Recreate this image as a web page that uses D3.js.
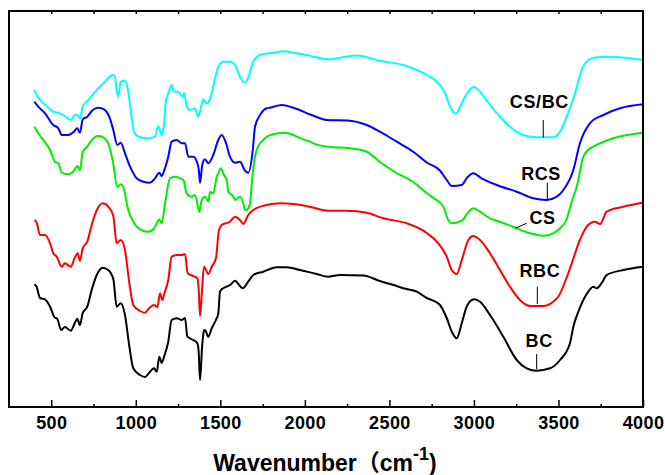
<!DOCTYPE html>
<html>
<head>
<meta charset="utf-8">
<script src="https://cdn.jsdelivr.net/npm/d3@7"></script>
<style>
  html, body { margin: 0; padding: 0; background: #fff; }
  svg { display: block; }
</style>
</head>
<body>
<div id="chart"></div>
<script>
// FTIR spectra, transmittance in arbitrary units (curves offset for display)

const xTicks = [500, 1000, 1500, 2000, 2500, 3000, 3500, 4000];

const bc = [[400,122.7],[414,120],[433,109],[463,107.7],[493,100.3],[518,90],[536,88],[558,77],[581,80],[615,76.3],[640,84.3],[654,88.3],[670,82],[686,94],[713,100.3],[739,117],[769,132],[804,139.3],[837,137],[867,128],[887,100.3],[911,103.7],[936,92],[962,60.3],[985,38.7],[1025,32],[1054,30],[1084,35.3],[1108,38.7],[1124,35.3],[1139,50.3],[1153,44],[1167,50.3],[1192,65.3],[1212,87],[1242,88.7],[1272,87],[1291,89],[1305,70.3],[1340,67],[1364,63.7],[1372,55],[1380,27],[1392,60],[1403,76.3],[1409,77],[1429,70.3],[1449,78.7],[1474,87],[1488,93.7],[1498,115.3],[1508,117.7],[1538,120.3],[1557,122],[1587,126.3],[1616,121],[1632,118.7],[1665,125.3],[1695,132],[1754,135.3],[1833,139.7],[1893,139.7],[1971,137],[2070,133],[2139,130.3],[2208,132],[2346,131.5],[2444,126],[2543,121],[2582,118.7],[2662,115.3],[2721,109],[2776,105],[2799,102],[2839,89],[2869,75.3],[2898,68.7],[2928,83.7],[2957,100.3],[3000,107.7],[3036,105.3],[3095,92],[3174,70.3],[3253,47],[3312,38.7],[3371,36.3],[3450,38.7],[3509,47],[3568,63.7],[3588,80.3],[3617,95],[3647,107],[3667,113],[3706,120.3],[3726,118.7],[3756,124],[3785,132],[3883,137],[4000,140.3]];

const rbc = [[400,187],[414,184.3],[433,172],[463,172],[493,163.7],[512,153.7],[532,150.3],[562,140.3],[581,143.7],[615,140.3],[640,149.7],[656,153.7],[670,146.3],[686,158.7],[713,165.3],[739,182],[772,197.7],[804,203.7],[837,200.3],[867,191],[887,163.7],[911,167],[936,157],[962,123.7],[985,102],[1025,96],[1054,94.3],[1084,99.7],[1108,102],[1127,99.7],[1143,113.7],[1157,107],[1169,113.7],[1192,127],[1212,150.3],[1242,152],[1272,152],[1291,153],[1307,133.7],[1340,131],[1364,128.7],[1372,118],[1380,91],[1392,117],[1403,140.3],[1429,133],[1449,140.3],[1474,148.7],[1492,177],[1508,182],[1557,185.3],[1587,190.3],[1616,187],[1636,183],[1665,192],[1695,197],[1774,202],[1853,203.7],[1932,203],[2030,200.3],[2139,196.3],[2247,196.3],[2366,194.3],[2464,188.7],[2602,183.7],[2721,174],[2789,163.7],[2839,150.3],[2869,137],[2898,133],[2928,147],[2967,167],[2996,171],[3036,167],[3095,153.7],[3154,137],[3213,120.3],[3272,107],[3332,101],[3410,101],[3469,105.3],[3499,110.3],[3558,133.7],[3627,167],[3667,180.3],[3716,185.3],[3746,183],[3785,195.3],[3883,200.3],[4000,204.3]];

const cs = [[400,280.3],[423,273.7],[453,267],[493,257],[522,245.3],[542,243.7],[562,234.3],[601,232.7],[634,236.3],[654,241],[670,237],[686,255.3],[713,260.3],[739,267],[778,271],[808,269.7],[837,263.7],[863,247],[891,220.3],[911,222.7],[936,213.7],[946,203.7],[985,185.3],[1025,177.7],[1074,175.3],[1104,177.7],[1124,183.7],[1139,187.7],[1153,183.7],[1173,203.7],[1202,228.7],[1232,230.3],[1261,228.7],[1281,227],[1301,213.7],[1331,210.3],[1350,212],[1368,200],[1376,195],[1390,207],[1409,210.3],[1429,205.3],[1439,215.3],[1458,213.7],[1479,230.3],[1488,233.7],[1502,238.7],[1522,232],[1538,227],[1547,215.3],[1577,210.3],[1587,207],[1616,210.3],[1636,203.7],[1646,197],[1656,197],[1665,198.7],[1676,203.7],[1686,223.7],[1705,250.3],[1715,257],[1735,263.7],[1754,267],[1774,270.3],[1813,272.7],[1872,274.3],[1932,272],[1952,270.3],[2030,265.3],[2050,263.7],[2139,260.3],[2267,258.7],[2366,255.3],[2444,245],[2543,234],[2641,225],[2721,214],[2760,209],[2819,200.3],[2848,187],[2869,183.7],[2928,186.3],[2967,195],[2996,198.7],[3036,195.3],[3095,188.7],[3135,186.3],[3233,180.3],[3332,173.7],[3410,171.3],[3469,173.7],[3509,178.7],[3549,188],[3578,205],[3608,220.3],[3647,250.3],[3675,257],[3706,260.3],[3824,268.7],[4000,274.3]];

const rcs = [[400,305.3],[423,300.3],[463,293.7],[512,282],[542,278.7],[562,272],[601,272],[634,275.3],[654,278.7],[670,274.3],[686,287.7],[713,290.3],[745,297],[778,299.3],[812,297.7],[843,290.3],[867,277],[891,262],[911,264.3],[936,253.7],[966,240.3],[1005,228.7],[1044,225.3],[1084,224.3],[1114,228.7],[1139,234.3],[1153,231],[1169,237],[1192,250.3],[1212,265.3],[1242,267],[1272,263.7],[1291,263.7],[1311,250.3],[1340,250.3],[1364,243.7],[1372,238],[1380,224.3],[1393,242],[1409,247.7],[1429,243.7],[1458,252],[1488,267],[1508,272],[1534,263.7],[1557,250.3],[1587,244.3],[1616,245.3],[1646,236.3],[1665,234.3],[1692,257],[1705,280.3],[1735,292],[1774,298.7],[1794,299.3],[1863,302],[1932,299.3],[2040,292],[2129,287],[2250,286.5],[2366,282],[2444,275.3],[2543,265.3],[2641,255.3],[2721,244.5],[2799,236.5],[2839,227],[2869,221],[2928,222],[2957,228.7],[2996,233.7],[3045,228.7],[3135,222],[3253,215.3],[3351,208.7],[3430,207],[3490,210.3],[3529,217],[3588,237],[3627,263.7],[3686,283.7],[3765,292],[3864,298.7],[4000,302.7]];

const csbc = [[400,317],[414,312],[443,305.3],[473,301],[512,295.3],[552,293.7],[591,289.7],[615,287],[640,292],[654,292],[670,288.7],[686,300.3],[719,307],[769,317],[818,325.3],[863,332],[877,330.3],[887,317],[896,310.3],[911,325.3],[936,326.3],[950,320.3],[970,297],[989,275.3],[1025,269.7],[1074,268.7],[1114,270.3],[1133,281],[1153,272],[1163,277],[1179,307],[1192,313.7],[1212,322],[1226,315.3],[1251,315.3],[1277,310.3],[1287,313.7],[1301,300.3],[1321,297],[1350,298.7],[1370,290.3],[1386,300.3],[1399,307.7],[1419,303.7],[1439,307.7],[1458,320.3],[1488,340.3],[1518,345.3],[1557,345.3],[1587,342],[1616,330.3],[1646,324.3],[1665,329.5],[1695,345.5],[1735,352],[1813,354.3],[1872,355.7],[1952,353.7],[2011,352],[2050,350.3],[2139,347.7],[2208,349.2],[2307,351.5],[2444,346.2],[2592,341.5],[2721,332],[2780,325.3],[2829,314],[2859,300.3],[2894,293.3],[2928,304],[2967,315.7],[3000,320],[3036,315.3],[3095,302],[3154,290.3],[3213,280.3],[3292,272],[3371,269.7],[3469,269.7],[3509,275.3],[3549,290.3],[3598,313.7],[3637,337],[3677,347],[3726,349.7],[3805,350.3],[3923,348.7],[4000,347]];

const seriesNames = ['BC', 'RBC', 'CS', 'RCS', 'CS/BC'];
const seriesData = [bc, rbc, cs, rcs, csbc];
const seriesColors = ['#000000', '#ff0000', '#00ee00', '#0000ff', '#00ffff'];

// label placement (data coords), leader line ends
const labelSpots = {
  'CS/BC': { tx: 3387, ty: 298.7, line: [[3410, 287], [3410, 269.3]] },
  'RCS':   { tx: 3397, ty: 227,   line: [[3434, 224.3], [3434, 207]] },
  'CS':    { tx: 3406, ty: 183,   line: [[3243, 178.7], [3312, 183.7]] },
  'RBC':   { tx: 3390, ty: 130.3, line: [[3375, 120.3], [3375, 103]] },
  'BC':    { tx: 3386, ty: 60.3,  line: [[3371, 53], [3371, 37.7]] }
};

const width = 665, height = 475;
const font = "'Liberation Sans', Arial, 'Noto Sans CJK SC', sans-serif";

const svg = d3.select('#chart').append('svg')
  .attr('width', width)
  .attr('height', height);

svg.append('rect')
  .attr('width', width)
  .attr('height', height)
  .attr('fill', '#fff');

const x = d3.scaleLinear().domain([250, 4000]).range([9, 643]);
const y = d3.scaleLinear().domain([0, 396]).range([407, 11]);

// curves
const line = d3.line()
  .x(d => x(d[0]))
  .y(d => y(d[1]))
  .curve(d3.curveMonotoneX);

svg.append('g')
  .selectAll('path')
  .data(seriesData)
  .join('path')
  .attr('d', line)
  .attr('fill', 'none')
  .attr('stroke', (d, i) => seriesColors[i])
  .attr('stroke-width', 2)
  .attr('stroke-linejoin', 'round');

// minor ticks (bottom)
const minorTicks = d3.range(750, 4000, 500);
svg.append('g')
  .attr('transform', `translate(0,${y(0)})`)
  .call(d3.axisBottom(x).tickValues(minorTicks).tickSizeInner(-3).tickSizeOuter(0).tickFormat(''))
  .call(g => g.select('.domain').remove())
  .call(g => g.selectAll('line').attr('stroke', '#000').attr('stroke-width', 1.5));

// major ticks + labels (bottom)
svg.append('g')
  .attr('transform', `translate(0,${y(0)})`)
  .call(d3.axisBottom(x).tickValues(xTicks).tickSizeInner(-7).tickSizeOuter(0).tickPadding(9).tickFormat(d3.format('d')))
  .call(g => g.select('.domain').remove())
  .call(g => g.selectAll('line').attr('stroke', '#000').attr('stroke-width', 1.5))
  .call(g => g.selectAll('text')
    .attr('fill', '#000')
    .style('font-family', font)
    .style('font-size', '18px')
    .style('font-weight', 'bold')
    .style('letter-spacing', '0.4px'));

// top ticks
svg.append('g')
  .attr('transform', `translate(0,${y(396)})`)
  .call(d3.axisTop(x).tickValues(d3.range(500, 4000, 250)).tickSizeInner(-3).tickSizeOuter(0).tickFormat(''))
  .call(g => g.select('.domain').remove())
  .call(g => g.selectAll('line').attr('stroke', '#000').attr('stroke-width', 1.5));

// frame
svg.append('rect')
  .attr('x', x(250))
  .attr('y', y(396))
  .attr('width', x(4000) - x(250))
  .attr('height', y(0) - y(396))
  .attr('fill', 'none')
  .attr('stroke', '#000')
  .attr('stroke-width', 2);

// axis title
const title = svg.append('text')
  .attr('x', 325)
  .attr('y', 471)
  .attr('text-anchor', 'middle')
  .style('font-family', font)
  .style('font-size', '23px')
  .style('font-weight', 'bold')
  .attr('fill', '#000');
title.append('tspan').text('Wavenumber\uFF08cm');
title.append('tspan').attr('dy', -11).style('font-size', '18px').text('-1');
title.append('tspan').attr('dy', 11).text(')');

// series labels
seriesNames.forEach(name => {
  const s = labelSpots[name];
  svg.append('text')
    .attr('x', x(s.tx))
    .attr('y', y(s.ty))
    .attr('text-anchor', 'middle')
    .style('font-family', font)
    .style('font-size', '18px')
    .style('font-weight', 'bold')
    .style('letter-spacing', '0.6px')
    .attr('fill', '#000')
    .text(name);
  svg.append('line')
    .attr('x1', x(s.line[0][0]))
    .attr('y1', y(s.line[0][1]))
    .attr('x2', x(s.line[1][0]))
    .attr('y2', y(s.line[1][1]))
    .attr('stroke', '#000')
    .attr('stroke-width', 1);
});
</script>
</body>
</html>
